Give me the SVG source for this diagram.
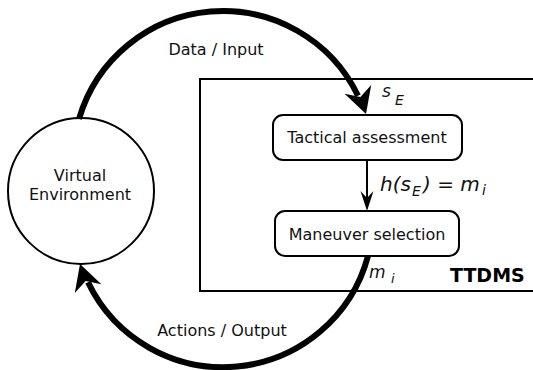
<svg xmlns="http://www.w3.org/2000/svg" width="533" height="370" viewBox="0 0 533 370">
<style>
.lbl{font-family:"DejaVu Sans","Liberation Sans",sans-serif;font-size:16px;fill:#111;}
.math{font-family:"DejaVu Sans","Liberation Sans",sans-serif;font-style:italic;fill:#111;}
.node{fill:#fff;stroke:#000;stroke-width:2;}
.thick{fill:none;stroke:#000;stroke-width:6;}
.thin{fill:none;stroke:#000;stroke-width:2;}
.head{fill:#000;stroke:none;}
</style>
<rect width="533" height="370" fill="#fff"/>
<g id="ttdms">
  <rect x="200" y="79" width="345" height="212" fill="#fff" stroke="#000" stroke-width="2"/>
  <text x="450" y="282" style="font-family:'DejaVu Sans','Liberation Sans',sans-serif;font-weight:bold;font-size:19px;fill:#000">TTDMS</text>
</g>
<g id="env">
  <circle class="node" cx="81" cy="191" r="73"/>
  <text class="lbl" x="80" y="181" text-anchor="middle">Virtual</text>
  <text class="lbl" x="80" y="200" text-anchor="middle">Environment</text>
</g>
<g id="tactical">
  <rect class="node" x="273" y="115" width="189" height="45" rx="10"/>
  <text class="lbl" x="367" y="143" text-anchor="middle">Tactical assessment</text>
</g>
<g id="maneuver">
  <rect class="node" x="275" y="211" width="184" height="45" rx="10"/>
  <text class="lbl" x="367" y="240" text-anchor="middle">Maneuver selection</text>
</g>
<g id="connectors">
  <path class="thick" d="M 79 119 A 150 150 0 0 1 358 95.7"/>
  <polygon class="head" points="366,114 371.2,84.9 360.4,96.9 344.6,93.7"/>
  <path class="thick" d="M 368 256 A 150 150 0 0 1 88 282.3"/>
  <polygon class="head" points="80,264 101.4,284.3 85.6,281.1 74.8,293.1"/>
  <line class="thin" x1="367" y1="160" x2="367" y2="199"/>
  <polygon class="head" points="367,211 373.5,191 367,198 360.5,191"/>
  <text class="lbl" x="216" y="55" text-anchor="middle">Data / Input</text>
  <text class="lbl" x="222" y="336" text-anchor="middle">Actions / Output</text>
  <text class="math" x="382" y="97" font-size="17">s</text>
  <text class="math" x="395" y="105" font-size="14">E</text>
  <text class="math" font-size="20"><tspan x="380" y="191">h(s</tspan><tspan x="412" y="196" font-size="14">E</tspan><tspan x="423" y="191">) = m</tspan><tspan x="482" y="195" font-size="14">i</tspan></text>
  <text class="math" x="369" y="278" font-size="17">m</text>
  <text class="math" x="391" y="283" font-size="13">i</text>
</g>
</svg>
